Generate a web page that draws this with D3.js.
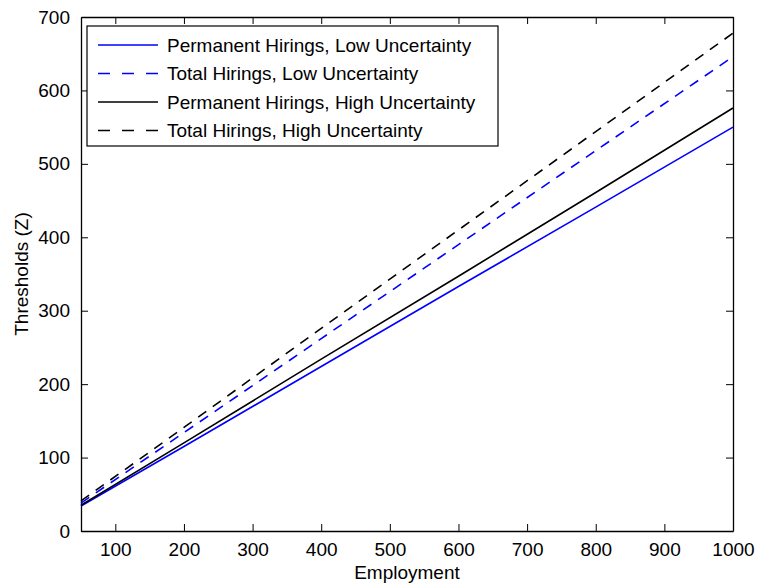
<!DOCTYPE html>
<meta charset="utf-8">
<style>
body { margin: 0; background: #fff; }
svg { font-family: "Liberation Sans", Arial, sans-serif; }
.axis path, .axis line { stroke: #000; }
.axis text { font-size: 19px; fill: #000; }
</style>
<svg width="761" height="585"></svg>
<script src="https://cdn.jsdelivr.net/npm/d3@7"></script>
<script>

// values
var employment = [50, 200, 400, 600, 800, 1000];
var permLow   = [34, 115, 224, 333, 441, 550];
var totalLow  = [38, 134, 262, 390, 518, 646];
var permHigh  = [35, 120, 234, 347, 461, 576];
var totalHigh = [41, 141, 276, 410, 544, 678];

var xTicks = [100, 200, 300, 400, 500, 600, 700, 800, 900, 1000];
var yTicks = [0, 100, 200, 300, 400, 500, 600, 700];

var series = [
  {name: "Permanent Hirings, Low Uncertainty", values: permLow, color: "#0000ff", dash: null},
  {name: "Total Hirings, Low Uncertainty", values: totalLow, color: "#0000ff", dash: "10,8"},
  {name: "Permanent Hirings, High Uncertainty", values: permHigh, color: "#000", dash: null},
  {name: "Total Hirings, High Uncertainty", values: totalHigh, color: "#000", dash: "10,8"}
];

var svg = d3.select("svg"),
    margin = {top: 17, right: 28, bottom: 54, left: 81},
    width = 761 - margin.left - margin.right,
    height = 585 - margin.top - margin.bottom,
    g = svg.append("g").attr("transform", "translate(" + margin.left + "," + margin.top + ")");

var x = d3.scaleLinear().domain([50, 1000]).range([0, width]),
    y = d3.scaleLinear().domain([0, 700]).range([height, 0]);

var tick = 7;

// inward ticks on all four sides, like a matlab box
g.append("g")
    .attr("class", "axis")
    .attr("transform", "translate(0," + height + ")")
    .call(d3.axisBottom(x).tickValues(xTicks).tickFormat(d3.format("d"))
      .tickSizeInner(-tick).tickSizeOuter(0).tickPadding(12));

g.append("g")
    .attr("class", "axis")
    .call(d3.axisTop(x).tickValues(xTicks).tickSizeInner(-tick).tickSizeOuter(0).tickFormat(""));

g.append("g")
    .attr("class", "axis")
    .call(d3.axisLeft(y).tickValues(yTicks).tickSizeInner(-tick).tickSizeOuter(0).tickPadding(11));

g.append("g")
    .attr("class", "axis")
    .attr("transform", "translate(" + width + ",0)")
    .call(d3.axisRight(y).tickValues(yTicks).tickSizeInner(-tick).tickSizeOuter(0).tickFormat(""));

g.selectAll(".axis path").attr("stroke-width", 1.3);

var line = d3.line()
    .x(function(d, i) { return x(employment[i]); })
    .y(function(d) { return y(d); });

g.selectAll(".series")
    .data(series)
  .enter().append("path")
    .attr("class", "series")
    .attr("fill", "none")
    .attr("stroke", function(d) { return d.color; })
    .attr("stroke-width", 1.6)
    .attr("stroke-dasharray", function(d) { return d.dash; })
    .attr("d", function(d) { return line(d.values); });

// axis titles
svg.append("text")
    .attr("x", margin.left + width / 2)
    .attr("y", 579)
    .attr("text-anchor", "middle")
    .style("font-size", "19px")
    .text("Employment");

svg.append("text")
    .attr("transform", "translate(28," + (margin.top + height / 2) + ") rotate(-90)")
    .attr("text-anchor", "middle")
    .style("font-size", "19px")
    .text("Thresholds (Z)");

// legend
var legend = svg.append("g").attr("transform", "translate(87,26)");

legend.append("rect")
    .attr("width", 411)
    .attr("height", 120)
    .attr("fill", "#fff")
    .attr("stroke", "#000")
    .attr("stroke-width", 1.2);

var item = legend.selectAll(".item")
    .data(series)
  .enter().append("g")
    .attr("class", "item")
    .attr("transform", function(d, i) { return "translate(0," + (19 + i * 28.5) + ")"; });

item.append("line")
    .attr("x1", 11)
    .attr("x2", 71)
    .attr("stroke", function(d) { return d.color; })
    .attr("stroke-width", 1.6)
    .attr("stroke-dasharray", function(d) { return d.dash ? "12,12" : null; });

item.append("text")
    .attr("x", 80)
    .attr("dy", "0.35em")
    .style("font-size", "19px")
    .text(function(d) { return d.name; });

</script>
